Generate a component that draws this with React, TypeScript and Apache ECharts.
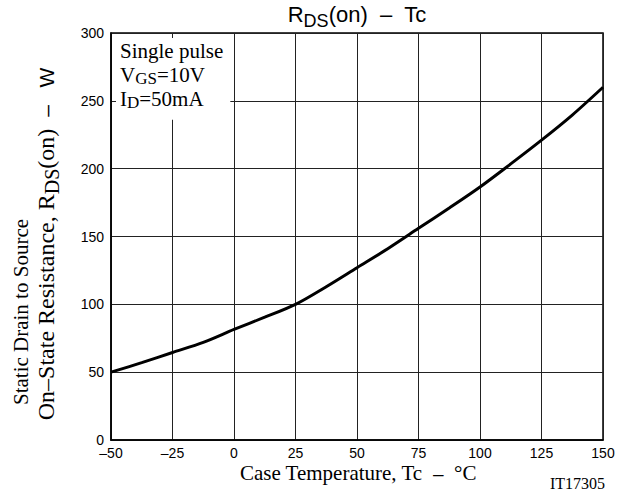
import React, { useEffect, useRef } from "react";
import * as echarts from "echarts";

const temps = [-50, -37.5, -25, -12.5, 0, 12.5, 25, 37.5, 50, 62.5, 75, 87.5, 100, 112.5, 125, 137.5, 150];
const rds = [50, 57, 64.5, 72, 81.5, 90.5, 100, 113, 127, 141, 156, 171, 186.5, 203.5, 221, 239.5, 260];
const xTicks = { min: -50, max: 150, interval: 25 };
const yTicks = { min: 0, max: 300, interval: 50 };
const titleParts = ["R", "DS", "(on)  \u2013  Tc"];
const noteLines = ["Single pulse", "V{s|GS}=10V", "I{s|D}=50mA"];
const yName1 = "Static Drain to Source";
const yName2 = "{m|On\u2013State Resistance, R}{s|DS}{m|(on)  }{a|\u2013   W}";
const xName = "{m|Case Temperature, Tc  }{a|\u2013}{m|  \u00B0C}";
const code = "IT17305";

const SERIF = "'Liberation Serif', 'DejaVu Serif', serif";
const SANS = "'Liberation Sans', Arial, sans-serif";

export default function App() {
  const ref = useRef<HTMLDivElement>(null);
  useEffect(() => {
    if (!ref.current) return;
    const chart = echarts.init(ref.current, undefined, { renderer: "svg" });
    const axisCommon = {
      axisLine: { show: true, onZero: false, lineStyle: { color: "#000", width: 1.5 } },
      axisTick: { show: false },
      splitLine: { show: true, lineStyle: { color: "#222", width: 1 } },
    };
    chart.setOption({
      animation: false,
      backgroundColor: "#fff",
      grid: { left: 111, right: 25, top: 33, bottom: 55, show: true, borderColor: "#000", borderWidth: 1.5, backgroundColor: "transparent" },
      xAxis: {
        type: "value",
        ...xTicks,
        ...axisCommon,
        axisLabel: {
          color: "#000",
          fontFamily: SANS,
          fontSize: 14,
          lineHeight: 13,
          margin: 6,
          formatter: (v: number) => String(v).replace("-", "\u2013"),
        },
      },
      yAxis: {
        type: "value",
        ...yTicks,
        ...axisCommon,
        axisLabel: { color: "#000", fontFamily: SANS, fontSize: 14, lineHeight: 11, margin: 7 },
      },
      series: [
        {
          type: "line",
          data: temps.map((t, i) => [t, rds[i]]),
          smooth: 0.3,
          symbol: "none",
          lineStyle: { color: "#000", width: 3 },
          z: 3,
        },
      ],
    });

    const p0 = chart.convertToPixel({ gridIndex: 0 }, [-50, 300]) as number[];
    const p1 = chart.convertToPixel({ gridIndex: 0 }, [-1.5, 236]) as number[];

    chart.setOption({
      graphic: [
        {
          type: "rect",
          z: 1,
          shape: { x: p0[0] + 5, y: p0[1] + 5, width: p1[0] - p0[0] - 5, height: p1[1] - p0[1] - 5 },
          style: { fill: "#fff" },
        },
        {
          type: "text",
          z: 5,
          x: 357,
          y: -2,
          style: {
            text: `{m|${titleParts[0]}}{d|${titleParts[1]}}{m|${titleParts[2]}}`,
            align: "center",
            verticalAlign: "top",
            rich: {
              m: { fontFamily: SANS, fontSize: 22, lineHeight: 32, fill: "#000" },
              d: { fontFamily: SANS, fontSize: 18, lineHeight: 17, verticalAlign: "bottom", fill: "#000" },
            },
          },
        },
        ...noteLines.map((t, i) => ({
          type: "text",
          z: 5,
          x: 120,
          y: 39 + i * 24,
          style: {
            text: t,
            fontFamily: SERIF,
            fontSize: 21,
            fill: "#000",
            align: "left",
            verticalAlign: "top",
            lineHeight: 24,
            rich: { s: { fontFamily: SERIF, fontSize: 17, lineHeight: 11, verticalAlign: "bottom", fill: "#000" } },
          },
        })),
        {
          type: "text",
          z: 5,
          x: 21,
          y: 312,
          rotation: Math.PI / 2,
          style: { text: yName1, fontFamily: SERIF, fontSize: 21, fill: "#000", align: "center", verticalAlign: "middle" },
        },
        {
          type: "text",
          z: 5,
          x: 46,
          y: 244,
          rotation: Math.PI / 2,
          style: {
            text: yName2,
            fill: "#000",
            align: "center",
            verticalAlign: "middle",
            rich: {
              m: { fontFamily: SERIF, fontSize: 24, lineHeight: 32, fill: "#000" },
              s: { fontFamily: SERIF, fontSize: 20, lineHeight: 17, verticalAlign: "bottom", fill: "#000" },
              a: { fontFamily: SANS, fontSize: 21, lineHeight: 32, fill: "#000" },
            },
          },
        },
        {
          type: "text",
          z: 5,
          x: 358,
          y: 473,
          style: {
            text: xName,
            fill: "#000",
            align: "center",
            verticalAlign: "middle",
            rich: {
              m: { fontFamily: SERIF, fontSize: 21, lineHeight: 16, fill: "#000" },
              a: { fontFamily: SANS, fontSize: 19, lineHeight: 16, fill: "#000" },
            },
          },
        },
        {
          type: "text",
          z: 5,
          x: 605,
          y: 483,
          style: { text: code, fontFamily: SERIF, fontSize: 16, fill: "#000", align: "right", verticalAlign: "middle" },
        },
      ],
    });
    return () => chart.dispose();
  }, []);
  return <div ref={ref} style={{ position: "fixed", left: 0, top: 0, width: 628, height: 495 }} />;
}
